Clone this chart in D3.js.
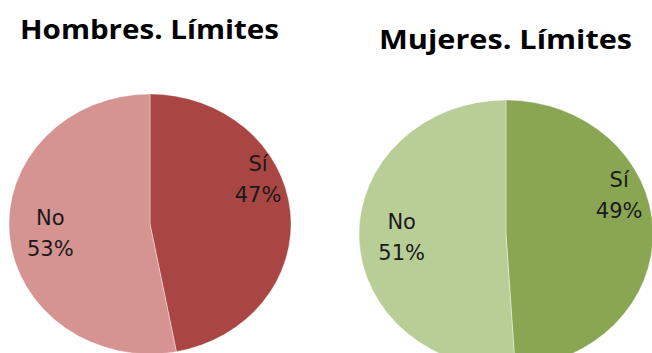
<!DOCTYPE html>
<html>
<head>
<meta charset="utf-8">
<script src="https://cdn.jsdelivr.net/npm/d3@7"></script>
<style>
  html, body { margin: 0; padding: 0; background: #ffffff; overflow: hidden; }
  svg { display: block; }
</style>
</head>
<body>
<svg id="chart" width="652" height="353"></svg>
<script>
// ---- data ----
const titles = ["Hombres. Límites", "Mujeres. Límites"];
const categories = ["Sí", "No"];
const hombresValues = [47, 53];
const mujeresValues = [49, 51];
const hombresColors = ["#A94643", "#D59391"];
const mujeresColors = ["#8AA652", "#B9CE97"];

// ---- layout ----
const pies = [
  { title: titles[0], values: hombresValues, colors: hombresColors,
    cx: 150, cy: 224, rx: 141, ry: 130, titleX: 149.5, titleY: 39.3, titleW: 259 },
  { title: titles[1], values: mujeresValues, colors: mujeresColors,
    cx: 506, cy: 234, rx: 147, ry: 134, titleX: 505.5, titleY: 49.3, titleW: 253 }
];
const labelRadius = [0.77, 0.71];   // fraction of radius, per category
const labelShift = [-36, 0];        // vertical shift of label block, per category

const svg = d3.select("#chart");
const pie = d3.pie().sort(null).value(d => d);

pies.forEach(p => {
  const g = svg.append("g");
  const arcs = pie(p.values);
  const arc = d3.arc().innerRadius(0).outerRadius(p.rx);

  g.append("g")
    .attr("transform", `translate(${p.cx},${p.cy}) scale(1,${p.ry / p.rx})`)
    .selectAll("path")
    .data(arcs)
    .join("path")
    .attr("d", arc)
    .attr("fill", (d, i) => p.colors[i])
    .attr("stroke", "#ffffff")
    .attr("stroke-width", 0.4);

  // labels
  arcs.forEach((d, i) => {
    const a = (d.startAngle + d.endAngle) / 2;
    const f = labelRadius[i];
    const x = p.cx + Math.sin(a) * p.rx * f;
    const y = p.cy - Math.cos(a) * p.ry * f + labelShift[i];
    const t = g.append("text")
      .attr("x", x)
      .attr("y", y)
      .attr("text-anchor", "middle")
      .attr("font-family", "'DejaVu Sans', Verdana, sans-serif")
      .attr("font-size", 21)
      .attr("fill", "#1a1a1a");
    t.append("tspan").attr("x", x).attr("dy", -7.5).text(categories[i]);
    t.append("tspan").attr("x", x).attr("dy", 30.5).text(d.data + "%");
  });

  // title
  g.append("text")
    .attr("x", p.titleX)
    .attr("y", p.titleY)
    .attr("text-anchor", "middle")
    .attr("font-family", "'Open Sans', 'Noto Sans', sans-serif")
    .attr("font-weight", "bold")
    .attr("font-size", 27)
    .attr("fill", "#000000")
    .attr("textLength", p.titleW)
    .attr("lengthAdjust", "spacingAndGlyphs")
    .text(p.title);
});
</script>
</body>
</html>
